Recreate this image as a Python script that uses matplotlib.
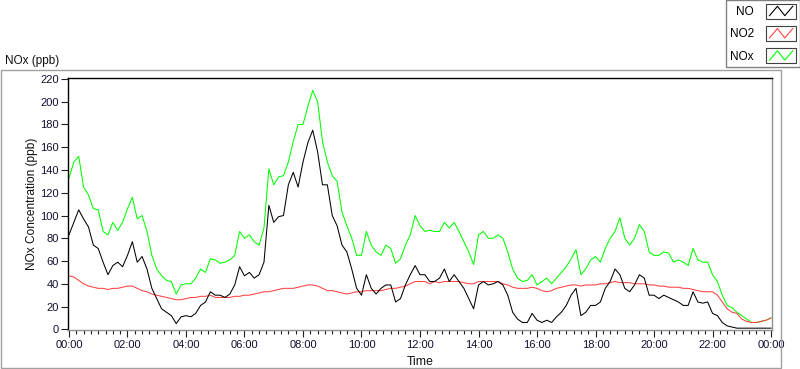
import numpy as np
import matplotlib
matplotlib.use("Agg")
import matplotlib.pyplot as plt
from matplotlib.legend_handler import HandlerBase
from matplotlib.lines import Line2D
from matplotlib.patches import Rectangle

# sample times in minutes after midnight (10 minute readings)
minutes = np.arange(0, 24 * 60 + 1, 10)

no = [83, 94, 105, 97, 90, 74,
      71, 59, 48, 56, 59, 55,
      65, 77, 59, 64, 53, 36,
      27, 18, 15, 12, 5, 11,
      12, 11, 14, 21, 24, 33,
      30, 30, 28, 31, 39, 55,
      47, 50, 45, 48, 59, 109,
      94, 99, 100, 127, 138, 125,
      147, 164, 175, 156, 127, 127,
      100, 91, 74, 68, 53, 36,
      30, 48, 36, 31, 36, 39,
      39, 24, 27, 39, 48, 56,
      48, 48, 42, 42, 45, 53,
      42, 48, 42, 36, 27, 18,
      39, 42, 39, 40, 42, 39,
      30, 15, 9, 6, 6, 14,
      8, 6, 8, 6, 11, 15,
      21, 30, 36, 12, 15, 21,
      21, 24, 36, 42, 53, 48,
      36, 33, 39, 48, 45, 30,
      30, 27, 30, 28, 26, 24,
      21, 21, 33, 24, 23, 24,
      14, 12, 6, 3, 2, 1,
      1, 1, 1, 1, 1, 1,
      1]

no2 = [47, 46, 43, 40, 38, 37,
       36, 36, 35, 36, 36, 37,
       38, 38, 36, 34, 33, 31,
       30, 29, 28, 27, 26, 26,
       27, 28, 28, 29, 29, 30,
       28, 28, 28, 28, 29, 29,
       30, 30, 31, 32, 33, 33,
       34, 35, 36, 36, 36, 37,
       38, 39, 39, 38, 36, 34,
       34, 33, 32, 31, 32, 33,
       33, 34, 34, 34, 34, 35,
       36, 36, 37, 38, 40, 42,
       42, 42, 40, 42, 41, 42,
       42, 42, 42, 41, 40, 40,
       42, 42, 42, 42, 42, 40,
       39, 37, 36, 36, 36, 37,
       36, 34, 33, 34, 36, 37,
       38, 39, 39, 38, 39, 39,
       39, 40, 40, 41, 42, 41,
       41, 41, 40, 40, 40, 39,
       39, 38, 38, 37, 37, 37,
       36, 36, 35, 34, 33, 33,
       33, 30, 24, 18, 15, 14,
       9, 7, 6, 6, 7, 8,
       10]

nox = [133, 147, 152, 125, 118, 106,
       105, 86, 83, 94, 87, 94,
       106, 116, 97, 100, 86, 65,
       53, 47, 43, 42, 31, 39,
       40, 40, 45, 53, 50, 62,
       61, 58, 59, 61, 65, 86,
       80, 83, 77, 74, 89, 141,
       127, 134, 135, 147, 165, 180,
       180, 196, 210, 200, 165, 147,
       135, 130, 103, 91, 80, 65,
       65, 86, 74, 68, 65, 74,
       71, 58, 62, 74, 83, 100,
       91, 86, 87, 86, 86, 94,
       89, 94, 86, 77, 68, 57,
       83, 86, 80, 80, 83, 80,
       68, 53, 45, 42, 43, 48,
       39, 42, 45, 40, 45, 50,
       55, 62, 70, 48, 53, 61,
       64, 59, 71, 80, 86, 98,
       80, 74, 80, 92, 86, 68,
       65, 65, 68, 67, 59, 61,
       59, 56, 71, 61, 59, 59,
       48, 42, 30, 21, 19, 15,
       12, 9, 6, 6, 7, 8,
       10]

series_names = ["NO", "NO2", "NOx"]
series_colors = ["#000000", "#ff4040", "#00ff00"]
tick_hours = list(range(0, 25, 2))
tick_labels = ["00:00", "02:00", "04:00", "06:00", "08:00", "10:00", "12:00",
               "14:00", "16:00", "18:00", "20:00", "22:00", "00:00"]
y_ticks = list(range(0, 221, 20))


class ZigzagHandler(HandlerBase):
    """legend swatch: a small framed box with a zigzag in the line colour"""

    def create_artists(self, legend, orig_handle, xdescent, ydescent,
                       width, height, fontsize, trans):
        box = Rectangle((-xdescent, -ydescent), width, height, fill=False,
                        ec="#404040", lw=0.8, transform=trans)
        fx = np.array([0.12, 0.38, 0.62, 0.88])
        fy = np.array([0.2, 0.82, 0.2, 0.82])
        zig = Line2D(fx * width - xdescent, fy * height - ydescent,
                     color=orig_handle.get_color(), lw=0.8, transform=trans)
        return [box, zig]


plt.rcParams["font.family"] = ["Liberation Sans", "DejaVu Sans"]

fig = plt.figure(figsize=(8.0, 3.69), dpi=100)
ax = fig.add_axes([0.0846, 0.1057, 0.8808, 0.6821])

hours = minutes / 60.0
h_nox, = ax.plot(hours, nox, color=series_colors[2], lw=0.75)
h_no2, = ax.plot(hours, no2, color=series_colors[1], lw=0.75)
h_no, = ax.plot(hours, no, color=series_colors[0], lw=0.75)

ax.set_xlim(-0.044, 24.044)
ax.set_ylim(-0.6, 220.6)
ax.set_xticks(tick_hours)
ax.set_xticklabels(tick_labels)
ax.set_xticks(np.arange(0, 24.01, 0.25), minor=True)
ax.set_yticks(y_ticks)
ax.tick_params(axis="both", which="major", labelsize=8, length=5, width=0.8,
               color="#202020", labelcolor="#101030")
ax.tick_params(axis="x", which="minor", length=3, width=0.8, color="#202020")
ax.tick_params(axis="y", pad=1.5)
ax.tick_params(axis="x", pad=2.5)

for side in ["top", "left"]:
    ax.spines[side].set_color("#000000")
    ax.spines[side].set_linewidth(1.0)
for side in ["bottom", "right"]:
    ax.spines[side].set_color("#909090")
    ax.spines[side].set_linewidth(1.0)

ax.set_xlabel("Time", fontsize=8.8, labelpad=4, color="#101010")
ax.set_ylabel("NOx Concentration (ppb)", fontsize=8.6, labelpad=1.5, color="#101010")

# outer panel frame and chart caption
fig.patches.append(Rectangle((0.5 / 800, 1 - 367.5 / 369), 780 / 800, 298 / 369,
                             transform=fig.transFigure, fill=False,
                             ec="#a0a0a0", lw=1.0))
fig.text(5 / 800, 1 - 64 / 369, "NOx (ppb)", fontsize=8.5, color="#101010",
         va="baseline", ha="left")

leg = fig.legend([h_no, h_no2, h_nox], series_names,
                 handler_map={Line2D: ZigzagHandler()},
                 loc="upper right", bbox_to_anchor=(1.0, 1.0),
                 markerfirst=False, fontsize=8.5, handlelength=2.6,
                 handleheight=1.6, labelspacing=0.6, handletextpad=1.0,
                 borderpad=0.3, borderaxespad=0.0, fancybox=False,
                 framealpha=1.0, edgecolor="#808080")
leg.get_frame().set_linewidth(1.0)

fig.savefig("out.png", dpi=100, facecolor="white")
